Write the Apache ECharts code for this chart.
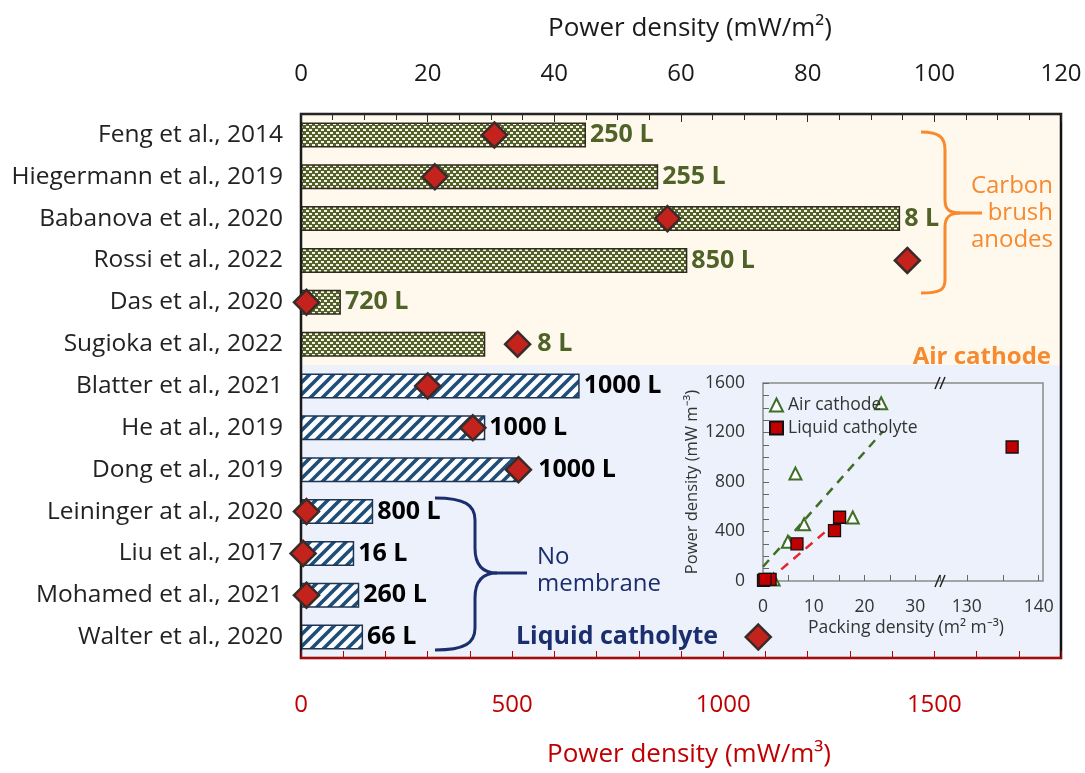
<!DOCTYPE html>
<html>
<head>
<meta charset="utf-8">
<script src="https://cdn.jsdelivr.net/npm/echarts@6/dist/echarts.min.js"></script>
<style>
  html, body { margin: 0; padding: 0; background: #fff; }
  #chart { width: 1085px; height: 773px; }
</style>
</head>
<body>
<div id="chart"></div>
<script>
// studies, top to bottom
const studies = [
  'Feng et al., 2014', 'Hiegermann et al., 2019', 'Babanova et al., 2020', 'Rossi et al., 2022',
  'Das et al., 2020', 'Sugioka et al., 2022', 'Blatter et al., 2021', 'He at al., 2019',
  'Dong et al., 2019', 'Leininger at al., 2020', 'Liu et al., 2017', 'Mohamed et al., 2021',
  'Walter et al., 2020'
];
const cathode = ['air', 'air', 'air', 'air', 'air', 'air',
  'liquid', 'liquid', 'liquid', 'liquid', 'liquid', 'liquid', 'liquid'];
const areaPower = [45.0, 56.4, 94.6, 61.0, 6.3, 29.1, 44.0, 29.1, 34.3, 11.4, 8.4, 9.2, 9.8];   // mW/m2
const volumePower = [458, 317, 868, 1436, 13, 513, 300, 407, 515, 13, 5, 13, 1083];             // mW/m3
const reactorVolume = ['250 L', '255 L', '8 L', '850 L', '720 L', '8 L',
  '1000 L', '1000 L', '1000 L', '800 L', '16 L', '260 L', '66 L'];
// inset: packing density (m2/m3)
const packingDensity = [8.1, 4.9, 6.4, 23.3, 2.1, 17.7, 6.7, 14.1, 15.1, 1.4, 0.1, 0.4, 136.3];
const airFit = [[0, 115], [23.7, 1212]];
const liquidFit = [[1.2, 10], [15.2, 500]];

const topTicks = [0, 20, 40, 60, 80, 100, 120];
const bottomTicks = [0, 500, 1000, 1500];
const insetYTicks = [0, 400, 800, 1200, 1600];
const insetXTicksLeft = [0, 10, 20, 30];
const insetXTicksRight = [130, 140];

// rows whose volume label sits after the diamond instead of after the bar
const labelOnMarker = ['Sugioka et al., 2022', 'Dong et al., 2019'];

const FONT = 'Open Sans';
const OLIVE = '#4F6228';
const NAVY = '#1F4E79';
const ORANGE = '#F7892F';
const DARKBLUE = '#1B2E6E';
const RED = '#C00000';

function dotPattern() {
  const c = document.createElement('canvas');
  c.width = 6; c.height = 6;
  const g = c.getContext('2d');
  g.fillStyle = '#52622A';
  g.fillRect(0, 0, 6, 6);
  g.fillStyle = '#F6F3E6';
  g.fillRect(0, 0, 3, 2);
  g.fillRect(3, 3, 3, 2);
  return c;
}
function stripePattern() {
  const c = document.createElement('canvas');
  c.width = 12; c.height = 12;
  const g = c.getContext('2d');
  g.fillStyle = '#FFFFFF';
  g.fillRect(0, 0, 12, 12);
  g.strokeStyle = NAVY;
  g.lineWidth = 3.6;
  g.beginPath();
  g.moveTo(-2, 14); g.lineTo(14, -2);
  g.moveTo(-8, 8); g.lineTo(8, -8);
  g.moveTo(4, 20); g.lineTo(20, 4);
  g.stroke();
  return c;
}
const greenFill = { image: dotPattern(), repeat: 'repeat' };
const blueFill = { image: stripePattern(), repeat: 'repeat' };

// curly brace made of bezier pieces and straight lines
function brace(pieces, color) {
  return pieces.map(p => p.length === 8
    ? { type: 'bezierCurve', z: 7, shape: { x1: p[0], y1: p[1], cpx1: p[2], cpy1: p[3], cpx2: p[4], cpy2: p[5], x2: p[6], y2: p[7] },
        style: { stroke: color, fill: null, lineWidth: 3 } }
    : { type: 'line', z: 7, shape: { x1: p[0], y1: p[1], x2: p[2], y2: p[3] },
        style: { stroke: color, lineWidth: 3 } });
}

const barData = studies.map((s, i) => ({
  value: areaPower[i],
  itemStyle: cathode[i] === 'air'
    ? { color: greenFill, borderColor: '#2E2C20', borderWidth: 1.5 }
    : { color: blueFill, borderColor: '#1E3556', borderWidth: 1.5 },
  label: {
    show: labelOnMarker.indexOf(s) < 0,
    formatter: reactorVolume[i],
    color: cathode[i] === 'air' ? OLIVE : '#000'
  }
}));
const diamondData = studies.map((s, i) => ({
  value: volumePower[i],
  label: {
    show: labelOnMarker.indexOf(s) >= 0,
    formatter: reactorVolume[i],
    color: cathode[i] === 'air' ? OLIVE : '#000'
  }
}));

const airPoints = [], liquidLeft = [], liquidRight = [];
studies.forEach((s, i) => {
  const p = [packingDensity[i], volumePower[i]];
  if (cathode[i] === 'air') airPoints.push(p);
  else if (packingDensity[i] < 100) liquidLeft.push(p);
  else liquidRight.push(p);
});

const chart = echarts.init(document.getElementById('chart'));

const insetTop = 383, insetH = 198, insetLeft = 763, insetBreak = 941, insetRight = 1043;

const breakMarks = [insetTop, insetTop + insetH].flatMap(y => [
  { type: 'line', z: 7, shape: { x1: insetBreak - 6, y1: y + 6, x2: insetBreak - 1, y2: y - 6 }, style: { stroke: '#222', lineWidth: 1.5 } },
  { type: 'line', z: 7, shape: { x1: insetBreak - 1, y1: y + 6, x2: insetBreak + 4, y2: y - 6 }, style: { stroke: '#222', lineWidth: 1.5 } }
]);

const plain = v => String(v);

chart.setOption({
  animation: false,
  textStyle: { fontFamily: FONT },
  grid: [
    { left: 301, top: 114, width: 760, height: 548, show: true, z: 2,
      backgroundColor: 'transparent', borderColor: '#111', borderWidth: 2.5 },
    { left: insetLeft, top: insetTop, width: insetBreak - insetLeft, height: insetH },
    { left: insetBreak, top: insetTop, width: insetRight - insetBreak, height: insetH }
  ],
  legend: {
    left: 764, top: 391, orient: 'vertical', itemGap: 5, itemWidth: 13, itemHeight: 13, z: 8,
    data: ['Air cathode', 'Liquid catholyte'],
    textStyle: { fontFamily: FONT, fontSize: 17.5, color: '#333' }
  },
  xAxis: [
    {
      gridIndex: 0, type: 'value', position: 'top', min: 0, max: 120, interval: 20, z: 3,
      name: 'Power density (mW/m²)', nameLocation: 'middle', nameGap: 72,
      nameTextStyle: { fontSize: 26, color: '#1a1a1a', padding: [0, 0, 0, 18] },
      axisLine: { show: true, lineStyle: { color: '#2a2a2a', width: 1.5 } },
      axisTick: { show: true, inside: true, length: 8, lineStyle: { color: '#2a2a2a' } },
      minorTick: { show: true, splitNumber: 4, length: 6, lineStyle: { color: '#2a2a2a' } },
      axisLabel: { fontSize: 24, color: '#1a1a1a', margin: 28, customValues: topTicks, formatter: plain },
      splitLine: { show: false }
    },
    {
      gridIndex: 0, type: 'value', position: 'bottom', min: 0, max: 1800, z: 3,
      name: 'Power density (mW/m³)', nameLocation: 'middle', nameGap: 84,
      nameTextStyle: { fontSize: 26, color: RED, padding: [0, 0, 0, 16] },
      axisLine: { show: true, lineStyle: { color: RED, width: 2 } },
      axisTick: {
        show: true, inside: true, length: 7, lineStyle: { color: RED },
        customValues: [0, 100, 200, 300, 400, 500, 600, 700, 800, 900, 1000, 1100, 1200, 1300, 1400, 1500, 1600, 1700, 1800]
      },
      axisLabel: { fontSize: 24, color: RED, margin: 35, customValues: bottomTicks, formatter: plain },
      splitLine: { show: false }
    },
    {
      gridIndex: 1, type: 'value', min: 0, max: 35.1, z: 6,
      axisLine: { show: false },
      axisTick: { show: true, inside: true, length: 6, lineStyle: { color: '#666' },
        customValues: [0, 5, 10, 15, 20, 25, 30, 35] },
      axisLabel: { fontSize: 17.5, color: '#333', margin: 17, customValues: insetXTicksLeft, formatter: plain },
      splitLine: { show: false }
    },
    {
      gridIndex: 2, type: 'value', min: 126.4, max: 140.6, z: 6,
      axisLine: { show: false },
      axisTick: { show: true, inside: true, length: 6, lineStyle: { color: '#666' },
        customValues: [130, 135, 140] },
      axisLabel: { fontSize: 17.5, color: '#333', margin: 17, customValues: insetXTicksRight, formatter: plain },
      splitLine: { show: false }
    }
  ],
  yAxis: [
    {
      gridIndex: 0, type: 'category', data: studies, inverse: true, z: 3,
      axisLine: { show: true, lineStyle: { color: '#1a1a1a', width: 2 } },
      axisTick: { show: false },
      axisLabel: { fontSize: 24.5, color: '#222', margin: 18, padding: [3, 0, 0, 0] }
    },
    {
      gridIndex: 0, type: 'value', min: 0, max: 13, inverse: true, show: false
    },
    {
      gridIndex: 1, type: 'value', min: 0, max: 1600, z: 6,
      name: 'Power density (mW m⁻³)', nameLocation: 'middle', nameGap: 58,
      nameTextStyle: { fontSize: 16.5, color: '#333' },
      axisLine: { show: false },
      axisTick: { show: true, inside: true, length: 6, lineStyle: { color: '#666' },
        customValues: [0, 100, 200, 300, 400, 500, 600, 700, 800, 900, 1000, 1100, 1200, 1300, 1400, 1500, 1600] },
      axisLabel: { fontSize: 17.5, color: '#333', margin: 18, customValues: insetYTicks, formatter: plain },
      splitLine: { show: false }
    },
    {
      gridIndex: 2, type: 'value', min: 0, max: 1600, show: false
    }
  ],
  series: [
    {
      type: 'line', xAxisIndex: 0, yAxisIndex: 1, data: [], z: 1, silent: true,
      markArea: {
        silent: true,
        data: [
          [{ yAxis: 0, itemStyle: { color: '#FFF8EC' } }, { yAxis: 6 }],
          [{ yAxis: 6, itemStyle: { color: '#EDF1FB' } }, { yAxis: 13 }]
        ]
      }
    },
    {
      name: 'area', type: 'bar', xAxisIndex: 0, yAxisIndex: 0, z: 2, barWidth: 25,
      data: barData,
      label: { position: 'right', distance: 4, fontSize: 25, fontWeight: 'bold', fontFamily: FONT }
    },
    {
      name: 'volume', type: 'scatter', xAxisIndex: 1, yAxisIndex: 0, z: 5,
      symbol: 'diamond', symbolSize: [25, 25],
      itemStyle: { color: '#C4221C', borderColor: '#3A2B28', borderWidth: 2.5, opacity: 1 },
      label: { position: 'right', distance: 6, fontSize: 25, fontWeight: 'bold', fontFamily: FONT },
      data: diamondData
    },
    {
      type: 'line', xAxisIndex: 2, yAxisIndex: 2, data: airFit, showSymbol: false, z: 4,
      lineStyle: { color: '#3E6F25', width: 2.5, type: [9, 7] }
    },
    {
      type: 'line', xAxisIndex: 2, yAxisIndex: 2, data: liquidFit, showSymbol: false, z: 4,
      lineStyle: { color: '#E3262B', width: 2.5, type: [9, 7] }
    },
    {
      name: 'Air cathode', type: 'scatter', xAxisIndex: 2, yAxisIndex: 2, z: 6,
      symbol: 'emptyTriangle', symbolSize: 12,
      itemStyle: { color: '#3E6F25', borderColor: '#3E6F25', borderWidth: 2, opacity: 1 },
      data: airPoints
    },
    {
      name: 'Liquid catholyte', type: 'scatter', xAxisIndex: 2, yAxisIndex: 2, z: 6,
      symbol: 'rect', symbolSize: 12,
      itemStyle: { color: '#C00000', borderColor: '#111', borderWidth: 1.3, opacity: 1 },
      data: liquidLeft
    },
    {
      name: 'Liquid catholyte', type: 'scatter', xAxisIndex: 3, yAxisIndex: 3, z: 6,
      symbol: 'rect', symbolSize: 12,
      itemStyle: { color: '#C00000', borderColor: '#111', borderWidth: 1.3, opacity: 1 },
      data: liquidRight
    }
  ],
  graphic: [
    // inset frame and axis breaks
    { type: 'rect', z: 4, shape: { x: insetLeft, y: insetTop, width: insetRight - insetLeft, height: insetH },
      style: { fill: null, stroke: '#8A8A8A', lineWidth: 1.5 } },
    ...breakMarks,
    { type: 'text', z: 7, x: (insetLeft + insetRight) / 2 + 3, y: 628,
      style: { text: 'Packing density (m² m⁻³)', font: '17.5px "Open Sans"', fill: '#333', align: 'center', verticalAlign: 'middle' } },
    // carbon brush brace
    ...brace([
      [921, 132, 940, 132, 945, 138, 945, 150], [945, 150, 945, 200],
      [945, 200, 945, 210, 950, 213, 960, 213], [960, 213, 982, 213],
      [960, 213, 950, 213, 945, 217, 945, 227], [945, 227, 945, 280],
      [945, 280, 945, 290, 940, 293, 921, 293]
    ], ORANGE),
    { type: 'text', z: 7, x: 1053, y: 213,
      style: { text: 'Carbon\nbrush\nanodes', font: '24px "Open Sans"', fill: ORANGE, align: 'right', verticalAlign: 'middle', lineHeight: 27 } },
    { type: 'text', z: 7, x: 1051, y: 357,
      style: { text: 'Air cathode', font: 'bold 24px "Open Sans"', fill: ORANGE, align: 'right', verticalAlign: 'middle' } },
    // no membrane brace
    ...brace([
      [435, 498, 465, 498, 475, 505, 475, 520], [475, 520, 475, 548],
      [475, 548, 475, 565, 483, 573, 497, 573], [497, 573, 527, 573],
      [497, 573, 483, 573, 475, 581, 475, 598], [475, 598, 475, 628],
      [475, 628, 475, 643, 465, 650, 435, 650]
    ], DARKBLUE),
    { type: 'text', z: 7, x: 537, y: 571,
      style: { text: 'No\nmembrane', font: '24px "Open Sans"', fill: DARKBLUE, align: 'left', verticalAlign: 'middle', lineHeight: 27 } },
    { type: 'text', z: 7, x: 516, y: 637,
      style: { text: 'Liquid catholyte', font: 'bold 25px "Open Sans"', fill: DARKBLUE, align: 'left', verticalAlign: 'middle' } }
  ]
});
</script>
</body>
</html>
